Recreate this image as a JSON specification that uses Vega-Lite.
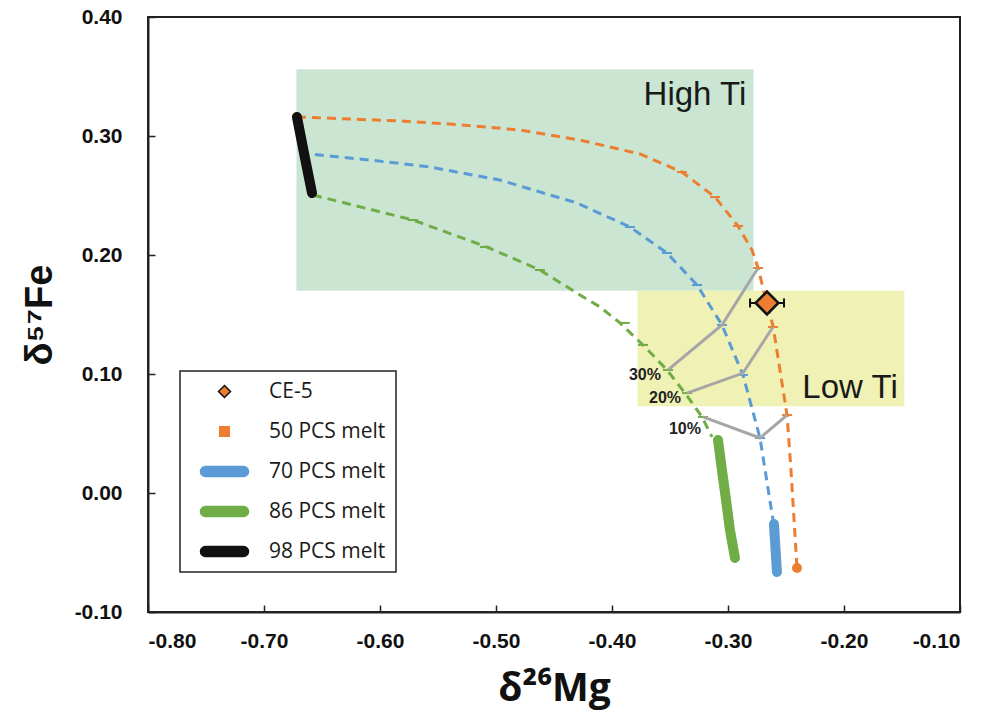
{
  "$schema": "https://vega.github.io/schema/vega-lite/v6.json",
  "width": 812,
  "height": 595,
  "autosize": "none",
  "padding": {"left": 148, "top": 17, "right": 25, "bottom": 111},
  "background": "white",
  "config": {
    "view": {"stroke": "#222", "strokeWidth": 2},
    "legend": {"strokeWidth": 1.5},
    "axis": {
      "grid": false,
      "domainColor": "#222",
      "domainWidth": 2,
      "tickColor": "#222",
      "tickWidth": 1.5,
      "tickSize": -7,
      "labelFont": "Liberation Sans",
      "labelFontWeight": "bold",
      "labelFontSize": 21,
      "labelColor": "#111",
      "titleColor": "#111"
    }
  },
  "datasets": {
    "boxes": [
      {"box": "High Ti", "x1": -0.672, "x2": -0.278, "y1": 0.170, "y2": 0.356},
      {"box": "Low Ti", "x1": -0.378, "x2": -0.148, "y1": 0.073, "y2": 0.170}
    ],
    "boxlabels": [
      {"label": "High Ti", "x": -0.3285, "y": 0.3345},
      {"label": "Low Ti", "x": -0.1948, "y": 0.0882}
    ],
    "curves": [
      {"series": "50 PCS melt", "kind": "dash", "i": 0, "x": -0.6716, "y": 0.3160},
      {"series": "50 PCS melt", "kind": "dash", "i": 1, "x": -0.6259, "y": 0.3143},
      {"series": "50 PCS melt", "kind": "dash", "i": 2, "x": -0.5828, "y": 0.3126},
      {"series": "50 PCS melt", "kind": "dash", "i": 3, "x": -0.5397, "y": 0.3101},
      {"series": "50 PCS melt", "kind": "dash", "i": 4, "x": -0.4793, "y": 0.3050},
      {"series": "50 PCS melt", "kind": "dash", "i": 5, "x": -0.4276, "y": 0.2966},
      {"series": "50 PCS melt", "kind": "dash", "i": 6, "x": -0.3759, "y": 0.2849},
      {"series": "50 PCS melt", "kind": "dash", "i": 7, "x": -0.3397, "y": 0.2697},
      {"series": "50 PCS melt", "kind": "dash", "i": 8, "x": -0.3112, "y": 0.2487},
      {"series": "50 PCS melt", "kind": "dash", "i": 9, "x": -0.2914, "y": 0.2244},
      {"series": "50 PCS melt", "kind": "dash", "i": 10, "x": -0.2793, "y": 0.2042},
      {"series": "50 PCS melt", "kind": "dash", "i": 11, "x": -0.2741, "y": 0.1891},
      {"series": "50 PCS melt", "kind": "dash", "i": 12, "x": -0.2672, "y": 0.1622},
      {"series": "50 PCS melt", "kind": "dash", "i": 13, "x": -0.2612, "y": 0.1403},
      {"series": "50 PCS melt", "kind": "dash", "i": 14, "x": -0.2552, "y": 0.1034},
      {"series": "50 PCS melt", "kind": "dash", "i": 15, "x": -0.2491, "y": 0.0655},
      {"series": "50 PCS melt", "kind": "dash", "i": 16, "x": -0.2457, "y": 0.0193},
      {"series": "50 PCS melt", "kind": "dash", "i": 17, "x": -0.2405, "y": -0.0630},
      {"series": "70 PCS melt", "kind": "dash", "i": 0, "x": -0.6690, "y": 0.2857},
      {"series": "70 PCS melt", "kind": "dash", "i": 1, "x": -0.6086, "y": 0.2798},
      {"series": "70 PCS melt", "kind": "dash", "i": 2, "x": -0.5569, "y": 0.2739},
      {"series": "70 PCS melt", "kind": "dash", "i": 3, "x": -0.4966, "y": 0.2630},
      {"series": "70 PCS melt", "kind": "dash", "i": 4, "x": -0.4302, "y": 0.2437},
      {"series": "70 PCS melt", "kind": "dash", "i": 5, "x": -0.3845, "y": 0.2235},
      {"series": "70 PCS melt", "kind": "dash", "i": 6, "x": -0.3526, "y": 0.2017},
      {"series": "70 PCS melt", "kind": "dash", "i": 7, "x": -0.3267, "y": 0.1748},
      {"series": "70 PCS melt", "kind": "dash", "i": 8, "x": -0.3052, "y": 0.1412},
      {"series": "70 PCS melt", "kind": "dash", "i": 9, "x": -0.2871, "y": 0.0992},
      {"series": "70 PCS melt", "kind": "dash", "i": 10, "x": -0.2724, "y": 0.0462},
      {"series": "70 PCS melt", "kind": "dash", "i": 11, "x": -0.2612, "y": -0.0227},
      {"series": "86 PCS melt", "kind": "dash", "i": 0, "x": -0.6578, "y": 0.2504},
      {"series": "86 PCS melt", "kind": "dash", "i": 1, "x": -0.5716, "y": 0.2294},
      {"series": "86 PCS melt", "kind": "dash", "i": 2, "x": -0.5078, "y": 0.2067},
      {"series": "86 PCS melt", "kind": "dash", "i": 3, "x": -0.4621, "y": 0.1874},
      {"series": "86 PCS melt", "kind": "dash", "i": 4, "x": -0.4276, "y": 0.1664},
      {"series": "86 PCS melt", "kind": "dash", "i": 5, "x": -0.4103, "y": 0.1563},
      {"series": "86 PCS melt", "kind": "dash", "i": 6, "x": -0.3931, "y": 0.1429},
      {"series": "86 PCS melt", "kind": "dash", "i": 7, "x": -0.3733, "y": 0.1244},
      {"series": "86 PCS melt", "kind": "dash", "i": 8, "x": -0.3526, "y": 0.1034},
      {"series": "86 PCS melt", "kind": "dash", "i": 9, "x": -0.3371, "y": 0.0840},
      {"series": "86 PCS melt", "kind": "dash", "i": 10, "x": -0.3224, "y": 0.0639},
      {"series": "86 PCS melt", "kind": "dash", "i": 11, "x": -0.3138, "y": 0.0471},
      {"series": "70 PCS melt", "kind": "thick", "i": 0, "x": -0.2604, "y": -0.0261},
      {"series": "70 PCS melt", "kind": "thick", "i": 1, "x": -0.2591, "y": -0.0462},
      {"series": "70 PCS melt", "kind": "thick", "i": 2, "x": -0.2578, "y": -0.0664},
      {"series": "86 PCS melt", "kind": "thick", "i": 0, "x": -0.3086, "y": 0.0445},
      {"series": "86 PCS melt", "kind": "thick", "i": 1, "x": -0.3052, "y": 0.0193},
      {"series": "86 PCS melt", "kind": "thick", "i": 2, "x": -0.3017, "y": -0.0059},
      {"series": "86 PCS melt", "kind": "thick", "i": 3, "x": -0.2983, "y": -0.0311},
      {"series": "86 PCS melt", "kind": "thick", "i": 4, "x": -0.2940, "y": -0.0546},
      {"series": "98 PCS melt", "kind": "thick", "i": 0, "x": -0.6716, "y": 0.3160},
      {"series": "98 PCS melt", "kind": "thick", "i": 1, "x": -0.6652, "y": 0.2840},
      {"series": "98 PCS melt", "kind": "thick", "i": 2, "x": -0.6586, "y": 0.2521}
    ],
    "marks": [
      {"series": "50 PCS melt", "x": -0.3397, "y": 0.2697},
      {"series": "50 PCS melt", "x": -0.3112, "y": 0.2487},
      {"series": "50 PCS melt", "x": -0.2914, "y": 0.2244},
      {"series": "50 PCS melt", "x": -0.2741, "y": 0.1891},
      {"series": "50 PCS melt", "x": -0.2612, "y": 0.1395},
      {"series": "50 PCS melt", "x": -0.2491, "y": 0.0655},
      {"series": "70 PCS melt", "x": -0.3845, "y": 0.2235},
      {"series": "70 PCS melt", "x": -0.3526, "y": 0.2017},
      {"series": "70 PCS melt", "x": -0.3267, "y": 0.1748},
      {"series": "70 PCS melt", "x": -0.3052, "y": 0.1412},
      {"series": "70 PCS melt", "x": -0.2871, "y": 0.0992},
      {"series": "70 PCS melt", "x": -0.2724, "y": 0.0462},
      {"series": "86 PCS melt", "x": -0.5716, "y": 0.2294},
      {"series": "86 PCS melt", "x": -0.5095, "y": 0.2067},
      {"series": "86 PCS melt", "x": -0.4621, "y": 0.1874},
      {"series": "86 PCS melt", "x": -0.3890, "y": 0.1429},
      {"series": "86 PCS melt", "x": -0.3733, "y": 0.1244},
      {"series": "86 PCS melt", "x": -0.3517, "y": 0.1034},
      {"series": "86 PCS melt", "x": -0.3353, "y": 0.0840},
      {"series": "86 PCS melt", "x": -0.3216, "y": 0.0639}
    ],
    "ties": [
      {"pct": "30%", "i": 0, "x": -0.3517, "y": 0.1034},
      {"pct": "30%", "i": 1, "x": -0.3052, "y": 0.1412},
      {"pct": "30%", "i": 2, "x": -0.2741, "y": 0.1891},
      {"pct": "20%", "i": 0, "x": -0.3353, "y": 0.0840},
      {"pct": "20%", "i": 1, "x": -0.2871, "y": 0.1008},
      {"pct": "20%", "i": 2, "x": -0.2612, "y": 0.1395},
      {"pct": "10%", "i": 0, "x": -0.3216, "y": 0.0639},
      {"pct": "10%", "i": 1, "x": -0.2724, "y": 0.0462},
      {"pct": "10%", "i": 2, "x": -0.2491, "y": 0.0655}
    ],
    "pctlabels": [
      {"label": "30%", "x": -0.3716, "y": 0.0992},
      {"label": "20%", "x": -0.3543, "y": 0.0801},
      {"label": "10%", "x": -0.3371, "y": 0.0538}
    ],
    "ce5": [
      {"series": "CE-5", "x": -0.2664, "y": 0.1597, "xlo": -0.2810, "xhi": -0.2517}
    ],
    "enddot": [
      {"series": "50 PCS melt", "x": -0.2405, "y": -0.0630}
    ]
  },
  "layer": [
    {
      "data": {"name": "boxes"},
      "transform": [{"filter": "datum.box == 'High Ti'"}],
      "mark": {"type": "rect", "fill": "#cae6d3"},
      "encoding": {
        "x": {"field": "x1", "type": "quantitative",
          "scale": {"domain": [-0.8, -0.1], "nice": false, "zero": false},
          "axis": {"values": [-0.8, -0.7, -0.6, -0.5, -0.4, -0.3, -0.2, -0.1],
            "labelExpr": "datum.value < 0 ? '-' + format(-datum.value, '.2f') : format(datum.value, '.2f')",
            "labelPadding": 25, "title": "δ²⁶Mg", "titleFont": "Open Sans", "titleFontWeight": "bold",
            "titleFontSize": 39, "titlePadding": 18}},
        "x2": {"field": "x2"},
        "y": {"field": "y1", "type": "quantitative",
          "scale": {"domain": [-0.1, 0.4], "nice": false, "zero": false},
          "axis": {"values": [-0.1, 0, 0.1, 0.2, 0.3, 0.4],
            "labelExpr": "datum.value < 0 ? '-' + format(-datum.value, '.2f') : format(datum.value, '.2f')",
            "labelPadding": 33, "title": "δ⁵⁷Fe", "titleFont": "Liberation Sans", "titleFontWeight": "bold",
            "titleFontSize": 38, "titlePadding": 15}},
        "y2": {"field": "y2"}
      }
    },
    {
      "data": {"name": "boxes"},
      "transform": [{"filter": "datum.box == 'Low Ti'"}],
      "mark": {"type": "rect", "fill": "#eff2b4"},
      "encoding": {
        "x": {"field": "x1", "type": "quantitative"},
        "x2": {"field": "x2"},
        "y": {"field": "y1", "type": "quantitative"},
        "y2": {"field": "y2"}
      }
    },
    {
      "data": {"name": "boxlabels"},
      "mark": {"type": "text", "font": "Liberation Sans", "fontSize": 33, "color": "#1a1a1a", "align": "center", "baseline": "middle"},
      "encoding": {
        "x": {"field": "x", "type": "quantitative"},
        "y": {"field": "y", "type": "quantitative"},
        "text": {"field": "label"}
      }
    },
    {
      "data": {"name": "curves"},
      "transform": [{"filter": "datum.kind == 'dash'"}],
      "mark": {"type": "line", "strokeWidth": 3, "strokeDash": [9, 6]},
      "encoding": {
        "x": {"field": "x", "type": "quantitative"},
        "y": {"field": "y", "type": "quantitative"},
        "order": {"field": "i", "type": "quantitative"},
        "detail": {"field": "series"},
        "color": {"field": "series", "type": "nominal", "legend": null,
          "scale": {"domain": ["50 PCS melt", "70 PCS melt", "86 PCS melt", "98 PCS melt"],
            "range": ["#ed7d31", "#5b9bd5", "#70ad47", "#111111"]}}
      }
    },
    {
      "data": {"name": "marks"},
      "mark": {"type": "point", "shape": "M-1,0L1,0", "size": 100, "filled": false, "strokeWidth": 2, "opacity": 1},
      "encoding": {
        "x": {"field": "x", "type": "quantitative"},
        "y": {"field": "y", "type": "quantitative"},
        "color": {"field": "series", "type": "nominal", "legend": null}
      }
    },
    {
      "data": {"name": "ties"},
      "mark": {"type": "line", "strokeWidth": 3, "color": "#a6a6a6"},
      "encoding": {
        "x": {"field": "x", "type": "quantitative"},
        "y": {"field": "y", "type": "quantitative"},
        "order": {"field": "i", "type": "quantitative"},
        "detail": {"field": "pct"}
      }
    },
    {
      "data": {"name": "curves"},
      "transform": [{"filter": "datum.kind == 'thick'"}],
      "mark": {"type": "line", "strokeWidth": 10, "strokeCap": "round", "strokeJoin": "round"},
      "encoding": {
        "x": {"field": "x", "type": "quantitative"},
        "y": {"field": "y", "type": "quantitative"},
        "order": {"field": "i", "type": "quantitative"},
        "detail": {"field": "series"},
        "color": {"field": "series", "type": "nominal", "legend": null}
      }
    },
    {
      "data": {"name": "pctlabels"},
      "mark": {"type": "text", "font": "Liberation Sans", "fontWeight": "bold", "fontSize": 16, "color": "#222", "align": "center", "baseline": "middle"},
      "encoding": {
        "x": {"field": "x", "type": "quantitative"},
        "y": {"field": "y", "type": "quantitative"},
        "text": {"field": "label"}
      }
    },
    {
      "data": {"name": "enddot"},
      "mark": {"type": "point", "shape": "circle", "filled": true, "size": 100, "fill": "#ed7d31", "strokeWidth": 0, "opacity": 1},
      "encoding": {
        "x": {"field": "x", "type": "quantitative"},
        "y": {"field": "y", "type": "quantitative"}
      }
    },
    {
      "data": {"name": "ce5"},
      "mark": {"type": "rule", "strokeWidth": 2, "color": "#111"},
      "encoding": {
        "x": {"field": "xlo", "type": "quantitative"},
        "x2": {"field": "xhi"},
        "y": {"field": "y", "type": "quantitative"}
      }
    },
    {
      "data": {"name": "ce5"},
      "mark": {"type": "point", "shape": "M0,-1L0,1", "size": 81, "filled": false, "stroke": "#111", "strokeWidth": 2, "opacity": 1},
      "encoding": {
        "x": {"field": "xlo", "type": "quantitative"},
        "y": {"field": "y", "type": "quantitative"}
      }
    },
    {
      "data": {"name": "ce5"},
      "mark": {"type": "point", "shape": "M0,-1L0,1", "size": 81, "filled": false, "stroke": "#111", "strokeWidth": 2, "opacity": 1},
      "encoding": {
        "x": {"field": "xhi", "type": "quantitative"},
        "y": {"field": "y", "type": "quantitative"}
      }
    },
    {
      "data": {"name": "ce5"},
      "mark": {"type": "point", "filled": true, "opacity": 1, "strokeWidth": 1.5},
      "encoding": {
        "x": {"field": "x", "type": "quantitative"},
        "y": {"field": "y", "type": "quantitative"},
        "fill": {"field": "series", "type": "nominal",
          "scale": {"domain": ["CE-5", "50 PCS melt", "70 PCS melt", "86 PCS melt", "98 PCS melt"],
            "range": ["#ed7d31", "#ed7d31", "#5b9bd5", "#70ad47", "#111111"]},
          "legend": {"title": null, "orient": "none", "legendX": 32, "legendY": 354,
            "strokeColor": "#222", "padding": 10, "rowPadding": 18,
            "labelFont": "Open Sans", "labelFontSize": 21, "labelColor": "#1a1a1a",
            "symbolOffset": 24, "labelOffset": 34,
            "symbolStrokeWidth": 1.5, "labelLimit": 300}},
        "stroke": {"field": "series", "type": "nominal",
          "scale": {"domain": ["CE-5", "50 PCS melt", "70 PCS melt", "86 PCS melt", "98 PCS melt"],
            "range": ["#111111", "#ed7d31", "#5b9bd5", "#70ad47", "#111111"]}},
        "shape": {"field": "series", "type": "nominal",
          "scale": {"domain": ["CE-5", "50 PCS melt", "70 PCS melt", "86 PCS melt", "98 PCS melt"],
            "range": ["diamond", "square",
              "M-3.8,-1L3.8,-1A1,1,0,0,1,3.8,1L-3.8,1A1,1,0,0,1,-3.8,-1Z",
              "M-3.8,-1L3.8,-1A1,1,0,0,1,3.8,1L-3.8,1A1,1,0,0,1,-3.8,-1Z",
              "M-3.8,-1L3.8,-1A1,1,0,0,1,3.8,1L-3.8,1A1,1,0,0,1,-3.8,-1Z"]}},
        "size": {"field": "series", "type": "nominal",
          "scale": {"type": "ordinal", "domain": ["CE-5", "50 PCS melt", "70 PCS melt", "86 PCS melt", "98 PCS melt"],
            "range": [144, 90, 100, 100, 100]}}
      }
    },
    {
      "data": {"name": "ce5"},
      "mark": {"type": "point", "shape": "diamond", "size": 520, "filled": true, "fill": "#ed7d31", "stroke": "#111", "strokeWidth": 2.5, "opacity": 1},
      "encoding": {
        "x": {"field": "x", "type": "quantitative"},
        "y": {"field": "y", "type": "quantitative"}
      }
    }
  ]
}
